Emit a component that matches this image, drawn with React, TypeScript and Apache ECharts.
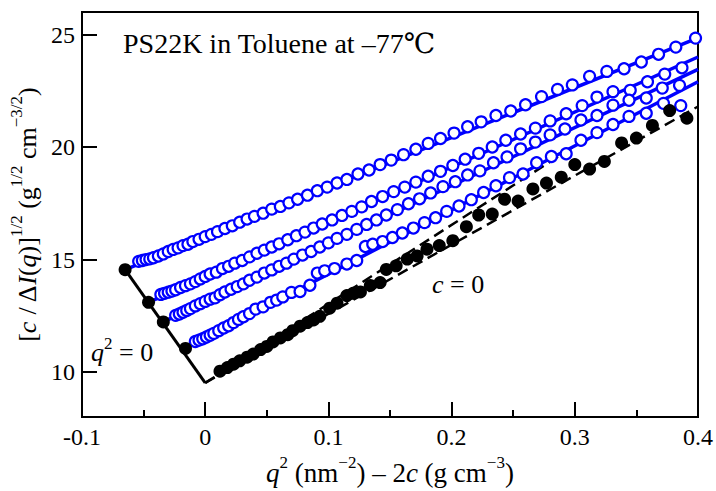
import React, { useEffect, useRef } from "react";
import * as echarts from "echarts";

// ---- data ----
const yTickValues = [10, 15, 20, 25];

// open blue circles, four concentrations (x = q^2 - 2c, y = [c/ΔI(q)]^1/2)
const seriesA = [
  [-0.054, 14.92], [-0.051, 14.96], [-0.048, 15.0], [-0.045, 15.03], [-0.042, 15.08],
  [-0.038, 15.16], [-0.034, 15.25], [-0.03, 15.36], [-0.026, 15.45], [-0.022, 15.52],
  [-0.018, 15.62], [-0.014, 15.68], [-0.01, 15.8], [-0.005, 15.9], [0.0, 16.02],
  [0.005, 16.12], [0.01, 16.24], [0.016, 16.38], [0.022, 16.5], [0.028, 16.66],
  [0.034, 16.8], [0.04, 16.92], [0.047, 17.06], [0.054, 17.24], [0.061, 17.36],
  [0.068, 17.52], [0.075, 17.68], [0.083, 17.86], [0.091, 18.06], [0.099, 18.22],
  [0.107, 18.4], [0.115, 18.56], [0.124, 18.8], [0.133, 18.98], [0.142, 19.22],
  [0.151, 19.42], [0.161, 19.66], [0.171, 19.9], [0.181, 20.16], [0.191, 20.38],
  [0.202, 20.62], [0.213, 20.9], [0.224, 21.12], [0.236, 21.4], [0.248, 21.6],
  [0.26, 21.88], [0.273, 22.24], [0.286, 22.56], [0.298, 22.76], [0.312, 23.14],
  [0.326, 23.36], [0.34, 23.48], [0.354, 23.78], [0.368, 24.12], [0.382, 24.44],
  [0.398, 24.84],
];
const seriesB = [
  [-0.036, 13.45], [-0.033, 13.5], [-0.03, 13.55], [-0.027, 13.6], [-0.024, 13.66],
  [-0.02, 13.76], [-0.016, 13.84], [-0.012, 13.92], [-0.008, 14.02], [-0.004, 14.14],
  [0.0, 14.25], [0.004, 14.36], [0.009, 14.44], [0.014, 14.6], [0.019, 14.7],
  [0.024, 14.84], [0.03, 14.96], [0.036, 15.12], [0.042, 15.28], [0.048, 15.42],
  [0.054, 15.56], [0.06, 15.7], [0.067, 15.88], [0.074, 16.06], [0.081, 16.22],
  [0.088, 16.4], [0.095, 16.58], [0.103, 16.76], [0.111, 16.96], [0.119, 17.14],
  [0.127, 17.34], [0.135, 17.58], [0.144, 17.8], [0.153, 18.02], [0.162, 18.22],
  [0.171, 18.44], [0.181, 18.7], [0.191, 18.92], [0.201, 19.18], [0.211, 19.46],
  [0.222, 19.72], [0.233, 20.0], [0.244, 20.3], [0.256, 20.58], [0.268, 20.84],
  [0.28, 21.16], [0.293, 21.48], [0.306, 21.84], [0.318, 22.22], [0.331, 22.46],
  [0.345, 22.52], [0.359, 22.9], [0.373, 23.24], [0.387, 23.52],
];
const seriesC = [
  [-0.024, 12.52], [-0.021, 12.58], [-0.018, 12.66], [-0.015, 12.74], [-0.012, 12.82],
  [-0.008, 12.94], [-0.004, 13.04], [0.0, 13.14], [0.004, 13.24], [0.008, 13.3],
  [0.012, 13.44], [0.016, 13.56], [0.021, 13.68], [0.026, 13.8], [0.031, 13.92],
  [0.036, 14.08], [0.042, 14.22], [0.048, 14.4], [0.054, 14.54], [0.06, 14.7],
  [0.066, 14.84], [0.072, 15.02], [0.079, 15.2], [0.086, 15.36], [0.093, 15.56],
  [0.1, 15.74], [0.107, 15.94], [0.115, 16.12], [0.123, 16.34], [0.131, 16.56],
  [0.139, 16.76], [0.147, 16.98], [0.156, 17.22], [0.165, 17.48], [0.174, 17.7],
  [0.183, 17.96], [0.193, 18.24], [0.203, 18.46], [0.213, 18.76], [0.223, 18.94],
  [0.234, 19.3], [0.245, 19.56], [0.256, 19.92], [0.268, 20.22], [0.28, 20.54],
  [0.292, 20.8], [0.305, 21.2], [0.318, 21.4], [0.331, 21.86], [0.344, 22.08],
  [0.358, 22.18], [0.371, 22.62], [0.385, 22.74],
];
const seriesD = [
  [-0.008, 11.36], [-0.005, 11.42], [-0.002, 11.48], [0.001, 11.56], [0.004, 11.64],
  [0.007, 11.72], [0.011, 11.84], [0.015, 11.96], [0.019, 12.06], [0.023, 12.2],
  [0.027, 12.34], [0.031, 12.46], [0.036, 12.6], [0.041, 12.8], [0.047, 12.9],
  [0.053, 13.1], [0.058, 13.2], [0.063, 13.34], [0.07, 13.54], [0.077, 13.58],
  [0.085, 13.86], [0.091, 14.4], [0.097, 14.5], [0.105, 14.6], [0.115, 14.8],
  [0.123, 14.96], [0.13, 15.58], [0.136, 15.68], [0.144, 15.8], [0.152, 15.98],
  [0.16, 16.18], [0.169, 16.4], [0.178, 16.64], [0.187, 16.86], [0.196, 17.14],
  [0.206, 17.38], [0.216, 17.66], [0.226, 17.98], [0.236, 18.28], [0.247, 18.64],
  [0.258, 18.8], [0.269, 19.3], [0.281, 19.58], [0.293, 19.7], [0.305, 20.3],
  [0.318, 20.64], [0.331, 21.0], [0.344, 21.36], [0.358, 21.5], [0.372, 21.94],
  [0.386, 21.84],
];
// filled black circles: extrapolated c = 0 values
const seriesC0 = [
  [0.012, 10.04], [0.018, 10.2], [0.023, 10.35], [0.028, 10.5], [0.034, 10.66],
  [0.039, 10.8], [0.045, 11.0], [0.05, 11.14], [0.055, 11.34], [0.061, 11.52],
  [0.067, 11.66], [0.071, 11.84], [0.077, 12.04], [0.083, 12.2], [0.088, 12.32],
  [0.093, 12.48], [0.101, 12.84], [0.107, 13.06], [0.115, 13.4], [0.12, 13.5],
  [0.126, 13.56], [0.134, 13.85], [0.142, 13.98], [0.147, 14.56], [0.155, 14.72],
  [0.164, 15.02], [0.172, 15.16], [0.18, 15.46], [0.19, 15.62], [0.201, 15.84],
  [0.212, 16.46], [0.222, 16.98], [0.233, 17.02], [0.243, 17.68], [0.254, 17.6],
  [0.266, 18.14], [0.277, 18.4], [0.289, 18.66], [0.3, 19.22], [0.312, 19.02],
  [0.324, 19.36], [0.338, 20.18], [0.35, 20.4], [0.363, 20.96], [0.377, 21.62],
  [0.391, 21.28],
];
// filled black circles: extrapolated q^2 = 0 values
const seriesQ0 = [[-0.065, 14.55], [-0.046, 13.1], [-0.034, 12.23], [-0.016, 11.05]];

// fitted lines
const fitA = [[-0.065, 14.55], [0.4, 24.85]];
const fitB = [[-0.046, 13.1], [0.4, 24.0]];
const fitC = [[-0.034, 12.23], [0.4, 23.45]];
const fitD = [[-0.016, 11.05], [0.4, 22.9]];
const fitQ0 = [[-0.065, 14.55], [0.0, 9.52]];
const fitC0 = [[0.0, 9.52], [0.4, 21.8]];
const initSlope = [[0.0, 9.52], [0.31, 20.4]];

const BLUE = "#0000ff";
const SERIF = "'Liberation Serif', 'Times New Roman', 'DejaVu Serif', serif";

function richSet(size: number, supSize: number, lh: number) {
  return {
    n: { fontSize: size, fontFamily: SERIF, color: "#000", lineHeight: lh, verticalAlign: "bottom" },
    i: { fontSize: size, fontFamily: SERIF, fontStyle: "italic", color: "#000", lineHeight: lh, verticalAlign: "bottom" },
    s: { fontSize: supSize, fontFamily: SERIF, color: "#000", lineHeight: supSize + 2, verticalAlign: "top" },
  };
}

export default function App() {
  const ref = useRef<HTMLDivElement>(null);
  useEffect(() => {
    if (!ref.current) return;
    const chart = echarts.init(ref.current, undefined, { renderer: "svg" });
    const lineS = (data: number[][], color: string, width: number, type: any = "solid", z = 2) => ({
      type: "line",
      data,
      symbol: "none",
      lineStyle: { color, width, type },
      z,
      silent: true,
    });
    const openS = (data: number[][]) => ({
      type: "scatter",
      data,
      symbol: "circle",
      symbolSize: 11,
      itemStyle: { color: "#fff", borderColor: BLUE, borderWidth: 2.2, opacity: 1 },
      z: 4,
    });
    const filledS = (data: number[][]) => ({
      type: "scatter",
      data,
      symbol: "circle",
      symbolSize: 13,
      itemStyle: { color: "#000", opacity: 1 },
      z: 5,
    });
    chart.setOption({
      animation: false,
      grid: {
        left: 82,
        top: 12,
        right: 17,
        bottom: 68,
        show: true,
        borderColor: "#000",
        borderWidth: 2,
        backgroundColor: "transparent",
      },
      xAxis: {
        type: "value",
        min: -0.1,
        max: 0.4,
        interval: 0.1,
        axisLine: { show: true, onZero: false, lineStyle: { color: "#000", width: 2 } },
        axisTick: { show: true, inside: true, length: 15, lineStyle: { color: "#000", width: 2 } },
        minorTick: { show: true, splitNumber: 2, length: 7, lineStyle: { color: "#000", width: 2 } },
        splitLine: { show: false },
        axisLabel: { color: "#000", fontSize: 24, fontFamily: SERIF, margin: 8 },
        name: "{i|q}{s|2}{n| (nm}{s|−2}{n|) – 2}{i|c}{n| (g cm}{s|−3}{n|)}",
        nameLocation: "middle",
        nameGap: 31,
        nameTextStyle: { rich: richSet(27, 17, 32), fontSize: 27, fontFamily: SERIF, color: "#000" },
      },
      yAxis: {
        type: "value",
        min: 8,
        max: 26,
        axisLine: { show: true, onZero: false, lineStyle: { color: "#000", width: 2 } },
        axisTick: { show: true, inside: true, length: 15, customValues: yTickValues, lineStyle: { color: "#000", width: 2 } },
        splitLine: { show: false },
        axisLabel: { color: "#000", fontSize: 24, fontFamily: SERIF, margin: 7, customValues: yTickValues },
        name: "{n|[}{i|c}{n| / Δ}{i|I}{n|(}{i|q}{n|)]}{s|1/2}{n| (g}{s|1/2}{n| cm}{s|−3/2}{n|)}",
        nameLocation: "middle",
        nameRotate: 90,
        nameGap: 37,
        nameTextStyle: { rich: richSet(26, 17, 32), fontSize: 26, fontFamily: SERIF, color: "#000" },
      },
      graphic: [
        {
          type: "text",
          x: 123,
          y: 43,
          style: {
            text: "PS22K in Toluene at –77℃",
            fontSize: 28,
            fontFamily: SERIF,
            fill: "#000",
            verticalAlign: "middle",
          },
          z: 10,
        },
        {
          type: "text",
          x: 432,
          y: 282,
          style: {
            text: "{i|c}{n| = 0}",
            rich: richSet(26, 16, 30),
            fill: "#000",
            verticalAlign: "middle",
          },
          z: 10,
        },
        {
          type: "text",
          x: 91,
          y: 350,
          style: {
            text: "{i|q}{s|2}{n| = 0}",
            rich: richSet(26, 17, 30),
            fill: "#000",
            verticalAlign: "middle",
          },
          z: 10,
        },
      ],
      series: [
        lineS(initSlope, "#000", 2.5, [11, 6], 2),
        lineS(fitC0, "#000", 2.5, [11, 6], 2),
        lineS(fitA, BLUE, 3.5, "solid", 3),
        lineS(fitB, BLUE, 3.5, "solid", 3),
        lineS(fitC, BLUE, 3.5, "solid", 3),
        lineS(fitD, BLUE, 3.5, "solid", 3),
        lineS(fitQ0, "#000", 3, "solid", 3),
        openS(seriesA),
        openS(seriesB),
        openS(seriesC),
        openS(seriesD),
        filledS(seriesC0),
        filledS(seriesQ0),
      ],
    });
    return () => chart.dispose();
  }, []);
  return <div ref={ref} style={{ position: "absolute", left: 0, top: 0, width: 716, height: 491 }} />;
}
